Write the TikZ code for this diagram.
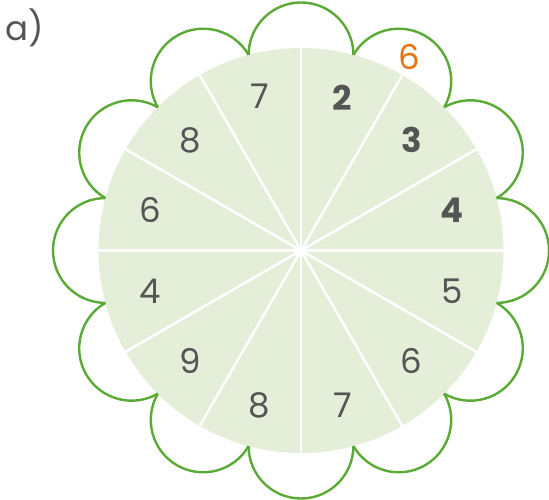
\documentclass[tikz,border=0pt]{standalone}
\usepackage{fontspec}
\setmainfont{Poppins}
\usetikzlibrary{calc}
\definecolor{petalgreen}{HTML}{5AAA35}
\definecolor{diskfill}{HTML}{E4EED9}
\definecolor{numgray}{HTML}{555555}
\definecolor{numorange}{HTML}{E8740F}
\tikzset{
  petal/.style={draw=petalgreen, line width=2.4pt},
  divider/.style={draw=white, line width=2.6pt},
  num/.style={text=numgray, font=\fontsize{34}{34}\selectfont, inner sep=0pt},
  boldnum/.style={num, font=\fontsize{34}{34}\selectfont\bfseries},
}
\begin{document}
\begin{tikzpicture}[x=1pt,y=1pt]
\useasboundingbox (0,0) rectangle (549,500);
\coordinate (C) at (301,249.5);
\fill[diskfill] (C) circle[radius=202.5];
\foreach \a in {0,30,...,150}{
  \draw[divider] ($(C)+(\a:202.5)$) -- ($(C)+(\a+180:202.5)$);
}
\foreach \a in {0,30,...,330}{
  \draw[petal] (C) ++(\a-15:202.5) arc[start angle=\a-90, end angle=\a+90, radius=52.4];
}
\node[boldnum] (n1) at ($(C)+(75:158)$) {2};
\node[boldnum] (n2) at ($(C)+(45:156)$) {3};
\node[boldnum] (n3) at ($(C)+(15:156)$) {4};
\node[num] (n4) at ($(C)+(-15:156)$) {5};
\node[num] (n5) at ($(C)+(-45:156)$) {6};
\node[num] (n6) at ($(C)+(-75:160)$) {7};
\node[num] (n7) at ($(C)+(-105:160)$) {8};
\node[num] (n8) at ($(C)+(-135:156)$) {9};
\node[num] (n9) at ($(C)+(-165:156)$) {4};
\node[num] (n10) at ($(C)+(165:156)$) {6};
\node[num] (n11) at ($(C)+(135:156)$) {8};
\node[num] (n12) at ($(C)+(105:160)$) {7};
\node[num, text=numorange] (top) at ($(C)+(60.8:221.6)$) {6};
\node[num, anchor=west] (lbl) at (5,472) {a)};
\end{tikzpicture}
\end{document}
